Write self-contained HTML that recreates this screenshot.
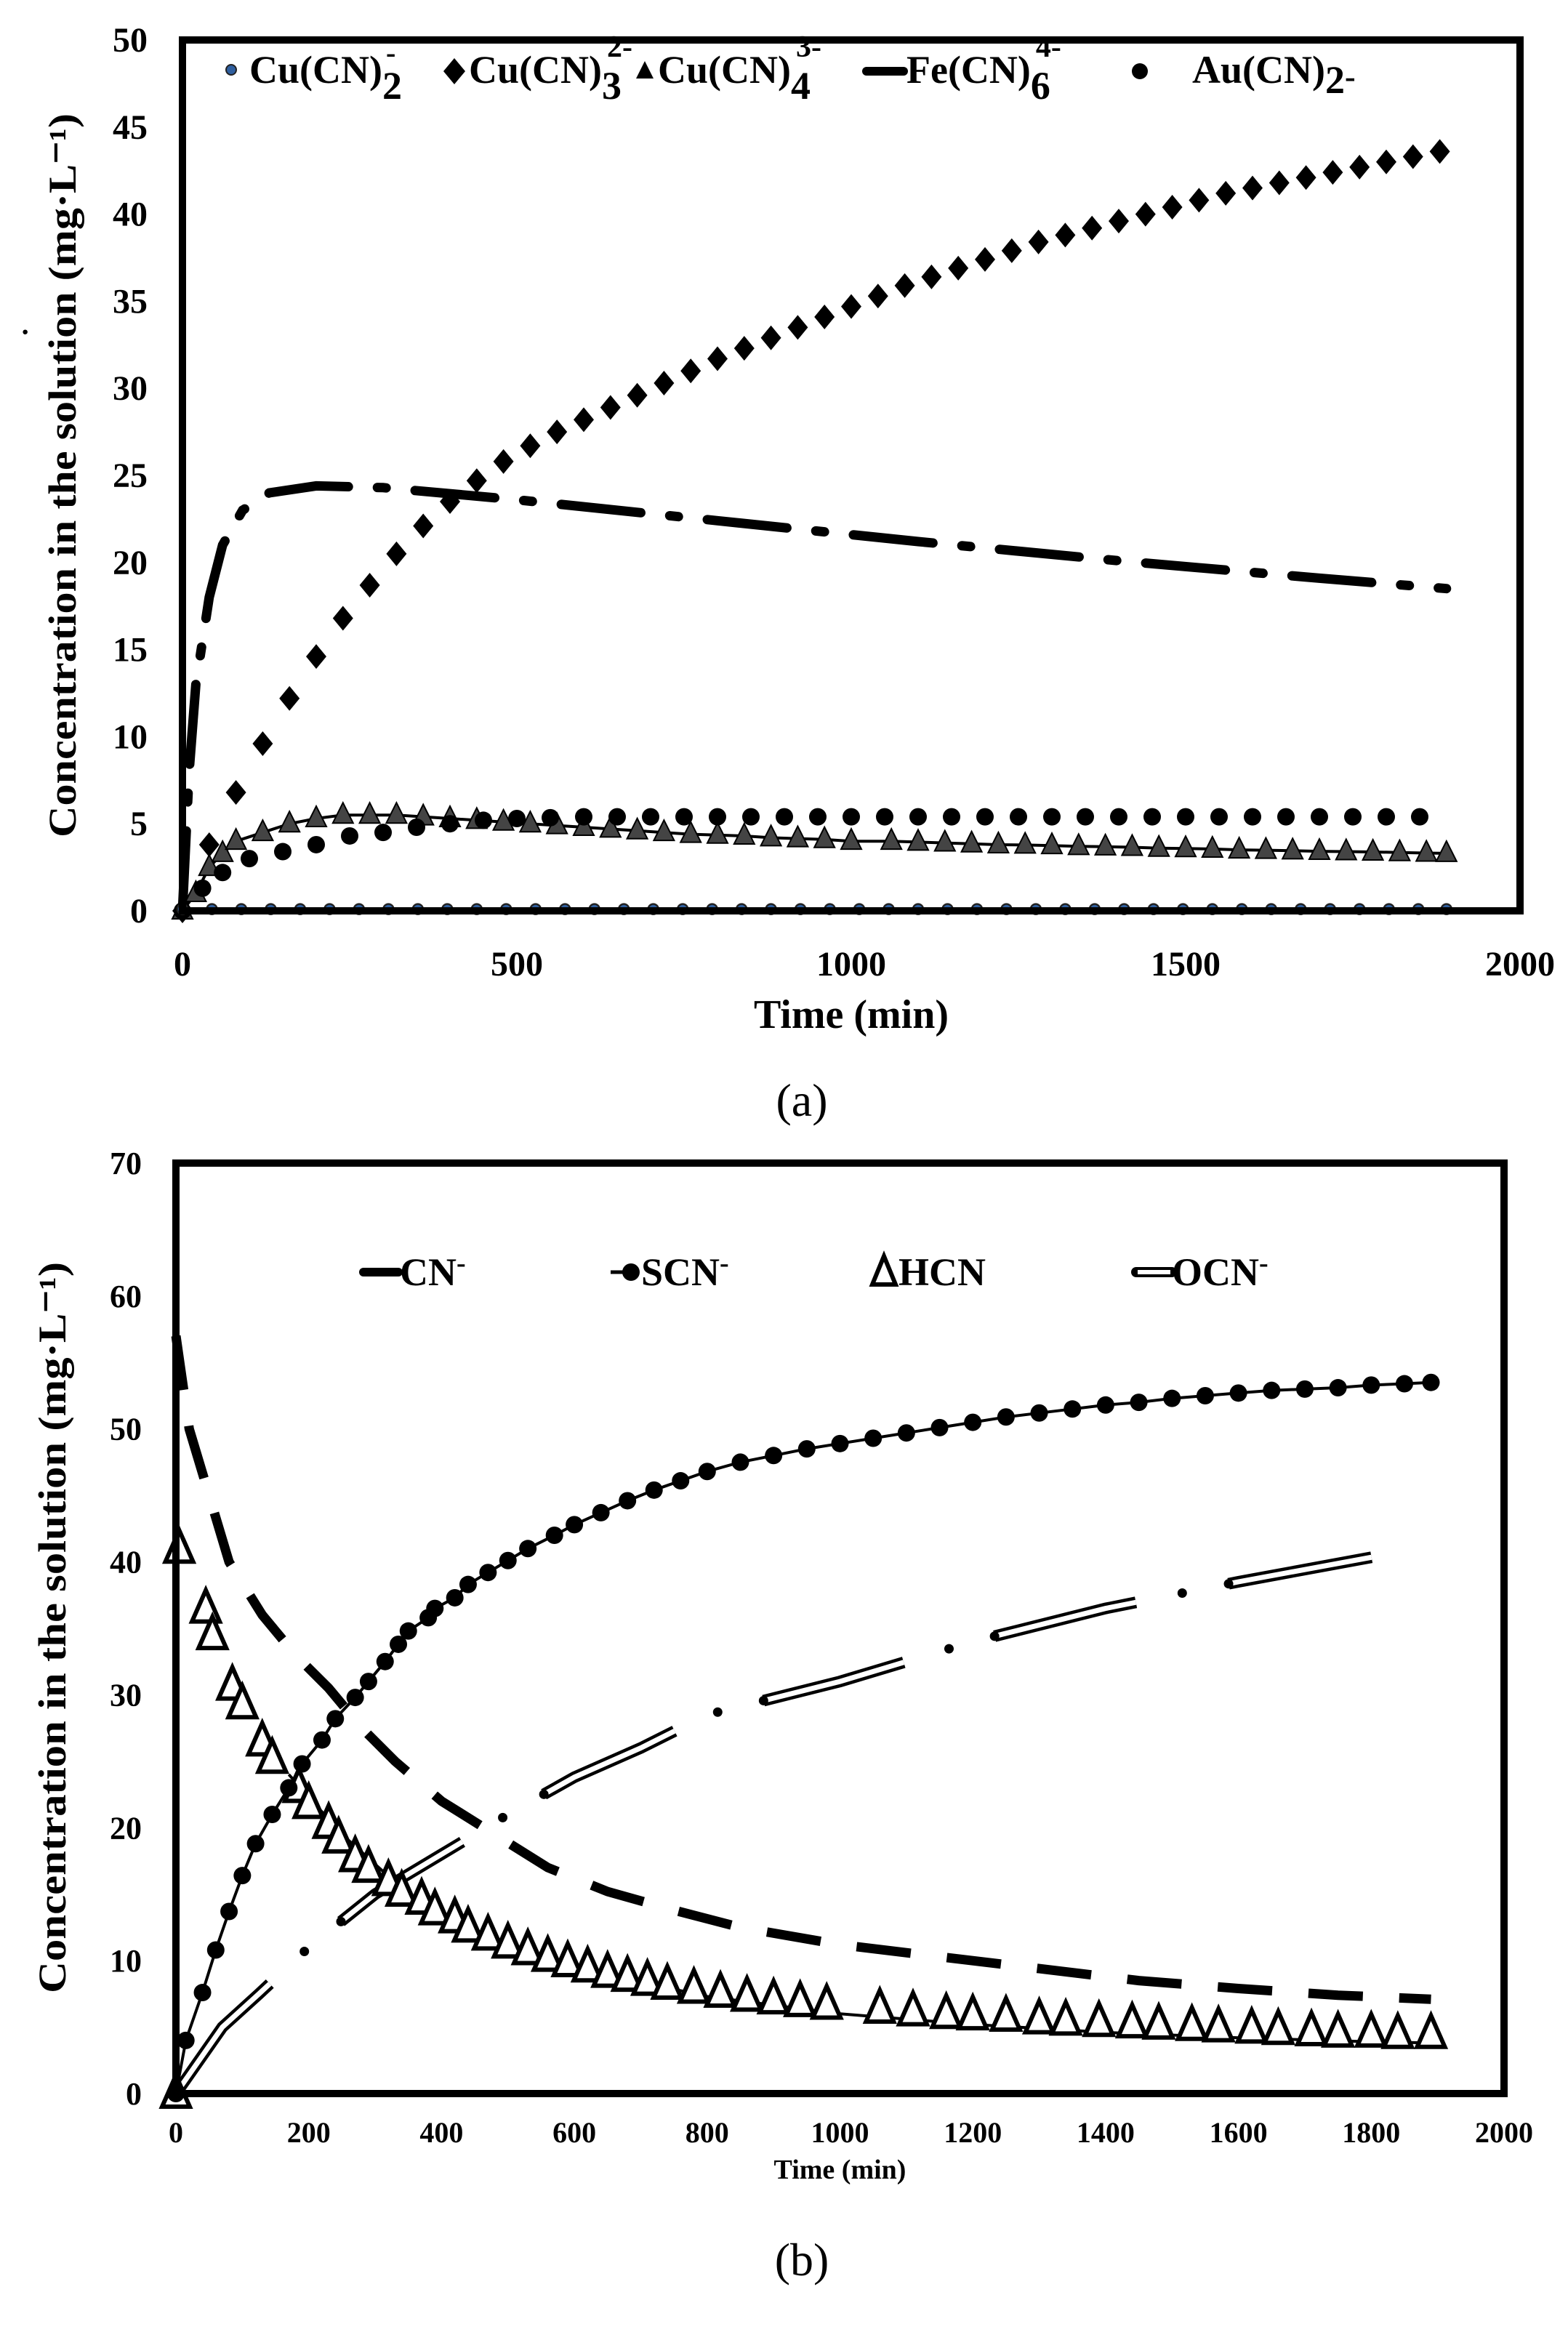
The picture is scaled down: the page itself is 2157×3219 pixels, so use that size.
<!DOCTYPE html>
<html><head><meta charset="utf-8"><style>
html,body{margin:0;padding:0;background:#fff;}
svg{display:block;font-family:"Liberation Serif",serif;font-weight:bold;}
</style></head><body>
<svg id="root" width="2157" height="3219" viewBox="0 0 2157 3219" xmlns="http://www.w3.org/2000/svg">
<g id="chartA"></g>
<g id="chartB"></g>
<text x="1103" y="1535" font-size="64" font-weight="normal" text-anchor="middle">(a)</text>
<text x="1103" y="3130" font-size="64" font-weight="normal" text-anchor="middle">(b)</text>
</svg>
<script>
const NS='http://www.w3.org/2000/svg';
// ---------- Chart A data ----------
const aYTicks=[0,5,10,15,20,25,30,35,40,45,50];
const aXTicks=[0,500,1000,1500,2000];
const cu2T=[0,44,88,132,176,220,264,308,352,396,440,484,528,572,616,660,704,748,792,836,880,924,968,1012,1056,1100,1144,1188,1232,1276,1320,1364,1408,1452,1496,1540,1584,1628,1672,1716,1760,1804,1848,1890];
const cu2V=[0.1,0.1,0.1,0.1,0.1,0.1,0.1,0.1,0.1,0.1,0.1,0.1,0.1,0.1,0.1,0.1,0.1,0.1,0.1,0.1,0.1,0.1,0.1,0.1,0.1,0.1,0.1,0.1,0.1,0.1,0.1,0.1,0.1,0.1,0.1,0.1,0.1,0.1,0.1,0.1,0.1,0.1,0.1,0.1];
const cu3T=[0,40,80,120,160,200,240,280,320,360,400,440,480,520,560,600,640,680,720,760,800,840,880,920,960,1000,1040,1080,1120,1160,1200,1240,1280,1320,1360,1400,1440,1480,1520,1560,1600,1640,1680,1720,1760,1800,1840,1880];
const cu3V=[0,3.8,6.8,9.6,12.2,14.6,16.8,18.7,20.5,22.1,23.5,24.7,25.8,26.7,27.5,28.2,28.9,29.6,30.3,31.0,31.7,32.3,32.9,33.5,34.1,34.7,35.3,35.9,36.4,36.9,37.4,37.9,38.4,38.8,39.2,39.6,40.0,40.4,40.8,41.2,41.5,41.8,42.1,42.4,42.7,43.0,43.3,43.6];
const cu4T=[0,20,40,60,80,120,160,200,240,280,320,360,400,440,480,520,560,600,640,680,720,760,800,840,880,920,960,1000,1060,1100,1140,1180,1220,1260,1300,1340,1380,1420,1460,1500,1540,1580,1620,1660,1700,1740,1780,1820,1860,1890];
const cu4V=[0,1,2.5,3.3,4,4.5,5,5.3,5.5,5.5,5.5,5.4,5.3,5.2,5.1,5.0,4.9,4.8,4.7,4.6,4.5,4.4,4.35,4.3,4.2,4.15,4.1,4.0,4.0,3.95,3.9,3.85,3.8,3.78,3.75,3.7,3.68,3.65,3.6,3.58,3.55,3.5,3.48,3.45,3.42,3.4,3.38,3.35,3.32,3.3];
const feT=[0,10,20,40,60,90,130,200,300,500,800,1100,1400,1700,1890];
const feV=[0,8,13,18,21,23,24,24.4,24.3,23.6,22.4,21.2,20.1,19.1,18.5];
const auT=[0,30,60,100,150,200,250,300,350,400,450,500,550,600,650,700,750,800,850,900,950,1000,1050,1100,1150,1200,1250,1300,1350,1400,1450,1500,1550,1600,1650,1700,1750,1800,1850];
const auV=[0,1.3,2.2,3,3.4,3.8,4.3,4.5,4.8,5,5.2,5.3,5.35,5.4,5.4,5.4,5.4,5.4,5.4,5.4,5.4,5.4,5.4,5.4,5.4,5.4,5.4,5.4,5.4,5.4,5.4,5.4,5.4,5.4,5.4,5.4,5.4,5.4,5.4];
// ---------- Chart B data ----------
const bYTicks=[0,10,20,30,40,50,60,70];
const bXTicks=[0,200,400,600,800,1000,1200,1400,1600,1800,2000];
const scnT=[0,15,40,60,80,100,120,145,170,190,220,240,270,290,315,335,350,380,390,420,440,470,500,530,570,600,640,680,720,760,800,850,900,950,1000,1050,1100,1150,1200,1250,1300,1350,1400,1450,1500,1550,1600,1650,1700,1750,1800,1850,1890];
const scnV=[0,4,7.6,10.8,13.7,16.4,18.8,21,23,24.8,26.6,28.2,29.8,31,32.5,33.8,34.8,35.8,36.5,37.3,38.3,39.2,40.1,41,42,42.8,43.7,44.6,45.4,46.1,46.8,47.5,48,48.5,48.9,49.3,49.7,50.1,50.5,50.9,51.2,51.5,51.8,52.0,52.3,52.5,52.7,52.9,53.0,53.1,53.3,53.4,53.5];
const cnT=[0,20,50,80,130,180,230,280,330,400,480,560,650,750,850,1000,1150,1300,1450,1600,1750,1890];
const cnV=[57,50,45,40,36,33,30.5,27.5,25,22,19.5,17,15.2,13.8,12.5,11.2,10.3,9.4,8.5,7.9,7.4,7.1];
const hcnT=[0,5,45,55,85,100,130,145,185,200,230,245,270,290,320,340,370,390,420,440,470,500,530,560,590,620,650,680,710,740,780,820,860,900,940,980,1060,1110,1160,1200,1250,1300,1340,1390,1440,1480,1530,1570,1620,1660,1710,1750,1800,1840,1890];
const hcnV=[0,41,36.5,34.5,30.7,29.3,26.5,25.2,23,21.8,20.3,19.2,17.8,17,16,15.2,14.6,13.8,13.2,12.5,11.9,11.3,10.8,10.3,9.9,9.5,9.1,8.8,8.5,8.2,7.9,7.6,7.3,7.1,6.9,6.7,6.4,6.2,6.0,5.9,5.8,5.6,5.5,5.4,5.3,5.2,5.1,5.0,4.9,4.8,4.7,4.6,4.6,4.5,4.5];
const hcnFitT=[170,250,350,450,600,800,1000,1200,1400,1600,1800,1900];
const hcnFitV=[24,19.5,15,12.2,9.5,7.3,6.0,5.2,4.6,4.2,3.9,3.8];
const ocnT=[0,70,125,200,300,400,500,600,700,800,1000,1200,1400,1600,1850];
const ocnV=[0,5,7.5,11,15,18,21,23.8,26,28.5,31,34,36.5,38.5,40.8];

function el(tag,attrs,parent){const e=document.createElementNS(NS,tag);for(const k in attrs)e.setAttribute(k,attrs[k]);parent.appendChild(e);return e;}
function poly(xs,ys,sx,sy){return xs.map((t,i)=>sx(t).toFixed(1)+','+sy(ys[i]).toFixed(1)).join(' ');}

// ===== Chart A =====
(function(){
const g=document.getElementById('chartA');
const L=251,R=2091,T=55,B=1253;
const sx=t=>L+(t/2000)*(R-L), sy=v=>B-(v/50)*(B-T);
aYTicks.forEach(v=>{const t=el('text',{x:203,y:sy(v)+16,'font-size':48,'text-anchor':'end'},g);t.textContent=v;

});
aXTicks.forEach(v=>{const t=el('text',{x:sx(v),y:1342,'font-size':48,'text-anchor':'middle'},g);t.textContent=v;

});
const xt=el('text',{x:(L+R)/2,y:1414,'font-size':56,'text-anchor':'middle'},g);xt.textContent='Time (min)';


const yt=el('text',{x:0,y:0,'font-size':54,'text-anchor':'middle',textLength:996,lengthAdjust:'spacingAndGlyphs',transform:'translate(104,654) rotate(-90)'},g);yt.textContent='Concentration in the solution (mg·L⁻¹)';


const fe=el('polyline',{points:poly(feT,feV,sx,sy),fill:'none',stroke:'#000','stroke-width':13,'stroke-dasharray':'110 40 12 40','stroke-linecap':'round'},g);


const c4l=el('polyline',{points:poly(cu4T,cu4V,sx,sy),fill:'none',stroke:'#000','stroke-width':4},g);


cu4T.forEach((t,i)=>{const x=sx(t),y=sy(cu4V[i]);const p=el('polygon',{points:`${x},${y-17} ${x-14},${y+11} ${x+14},${y+11}`,fill:'#444',stroke:'#000','stroke-width':2},g);

});
auT.forEach((t,i)=>{const c=el('circle',{cx:sx(t),cy:sy(auV[i]),r:12,fill:'#000'},g);

});
cu3T.forEach((t,i)=>{const x=sx(t),y=sy(cu3V[i]);const p=el('polygon',{points:`${x},${y-17} ${x+14},${y} ${x},${y+17} ${x-14},${y}`,fill:'#000'},g);

});
cu2T.forEach((t,i)=>{const c=el('circle',{cx:sx(t),cy:sy(cu2V[i]),r:7,fill:'#2f5f9f',stroke:'#222','stroke-width':2.5},g);

});
const fr=el('rect',{x:L,y:T,width:R-L,height:B-T,fill:'none',stroke:'#000','stroke-width':10},g);


const lg=el('g',{'font-size':54},g);


el('circle',{cx:318,cy:96,r:7,fill:'#2f5f9f',stroke:'#222','stroke-width':2},lg);
let t1=el('text',{x:343,y:114},lg);t1.innerHTML='Cu(CN)<tspan dy="22">2</tspan><tspan dx="-22" dy="-50" font-size="40">-</tspan>';
el('polygon',{points:'625,80 640,98 625,116 610,98',fill:'#000'},lg);
let t2=el('text',{x:645,y:114},lg);t2.innerHTML='Cu(CN)<tspan dy="22">3</tspan><tspan dx="-20" dy="-58" font-size="42">2-</tspan>';
el('polygon',{points:'887,84 875,108 899,108',fill:'#000'},lg);
let t3=el('text',{x:905,y:114},lg);t3.innerHTML='Cu(CN)<tspan dy="22">4</tspan><tspan dx="-20" dy="-58" font-size="42">3-</tspan>';
el('line',{x1:1192,y1:98,x2:1243,y2:98,stroke:'#000','stroke-width':12,'stroke-linecap':'round'},lg);
let t4=el('text',{x:1247,y:114},lg);t4.innerHTML='Fe(CN)<tspan dy="22">6</tspan><tspan dx="-20" dy="-58" font-size="42">4-</tspan>';
el('circle',{cx:1568,cy:98,r:11,fill:'#000'},lg);
let t5=el('text',{x:1640,y:114},lg);t5.innerHTML='Au(CN)<tspan dy="14">2</tspan><tspan dy="-8" font-size="44">-</tspan>';
const dot=el('text',{x:28,y:470,'font-size':40},g);dot.textContent='·';


})();

// ===== Chart B =====
(function(){
const g=document.getElementById('chartB');
const L=242,R=2069,T=1600,B=2880;
const sx=t=>L+(t/2000)*(R-L), sy=v=>B-(v/70)*(B-T);
bYTicks.forEach(v=>{const t=el('text',{x:195,y:sy(v)+15,'font-size':44,'text-anchor':'end'},g);t.textContent=v;

});
bXTicks.forEach(v=>{const t=el('text',{x:sx(v),y:2947,'font-size':40,'text-anchor':'middle'},g);t.textContent=v;

});
const xt=el('text',{x:(L+R)/2,y:2997,'font-size':38,'text-anchor':'middle'},g);xt.textContent='Time (min)';


const yt=el('text',{x:0,y:0,'font-size':54,'text-anchor':'middle',textLength:1006,lengthAdjust:'spacingAndGlyphs',transform:'translate(90,2239) rotate(-90)'},g);yt.textContent='Concentration in the solution (mg·L⁻¹)';


// OCN double line with solid dots
const o1=el('polyline',{points:poly(ocnT,ocnV,sx,sy),fill:'none',stroke:'#000','stroke-width':16,'stroke-dasharray':'200 130'},g);


el('polyline',{points:poly(ocnT,ocnV,sx,sy),fill:'none',stroke:'#fff','stroke-width':7,'stroke-dasharray':'200 130'},g);
el('polyline',{points:poly(ocnT,ocnV,sx,sy),fill:'none',stroke:'#000','stroke-width':13,'stroke-linecap':'round','stroke-dasharray':'0 265 0 65'},g);
const cn=el('polyline',{points:poly(cnT,cnV,sx,sy),fill:'none',stroke:'#000','stroke-width':13,'stroke-dasharray':'75 50'},g);


const hf=el('polyline',{points:poly(hcnFitT,hcnFitV,sx,sy),fill:'none',stroke:'#000','stroke-width':4},g);


hcnT.forEach((t,i)=>{const x=sx(t),y=sy(hcnV[i]);const p=el('polygon',{points:`${x},${y-25} ${x-19},${y+18} ${x+19},${y+18}`,fill:'#fff',stroke:'#000','stroke-width':6},g);

});
const sl=el('polyline',{points:poly(scnT,scnV,sx,sy),fill:'none',stroke:'#000','stroke-width':4},g);


scnT.forEach((t,i)=>{const c=el('circle',{cx:sx(t),cy:sy(scnV[i]),r:12,fill:'#000'},g);

});
const fr=el('rect',{x:L,y:T,width:R-L,height:B-T,fill:'none',stroke:'#000','stroke-width':10},g);


const lg=el('g',{'font-size':54},g);


el('line',{x1:500,y1:1750,x2:548,y2:1750,stroke:'#000','stroke-width':12,'stroke-linecap':'round'},lg);
let a=el('text',{x:550,y:1768},lg);a.innerHTML='CN<tspan dy="-18" font-size="38">-</tspan>';
el('line',{x1:840,y1:1750,x2:870,y2:1750,stroke:'#000','stroke-width':5},lg);
el('circle',{cx:868,cy:1750,r:12,fill:'#000'},lg);
let b=el('text',{x:882,y:1768},lg);b.innerHTML='SCN<tspan dy="-18" font-size="38">-</tspan>';
el('polygon',{points:'1216,1728 1200,1767 1232,1767',fill:'#fff',stroke:'#000','stroke-width':6},lg);
let c=el('text',{x:1236,y:1768},lg);c.textContent='HCN';
el('line',{x1:1563,y1:1750,x2:1612,y2:1750,stroke:'#000','stroke-width':14,'stroke-linecap':'round'},lg);
el('line',{x1:1565,y1:1750,x2:1610,y2:1750,stroke:'#fff','stroke-width':6},lg);
let d=el('text',{x:1612,y:1768},lg);d.innerHTML='OCN<tspan dy="-18" font-size="38">-</tspan>';
})();
</script>
</body></html>
